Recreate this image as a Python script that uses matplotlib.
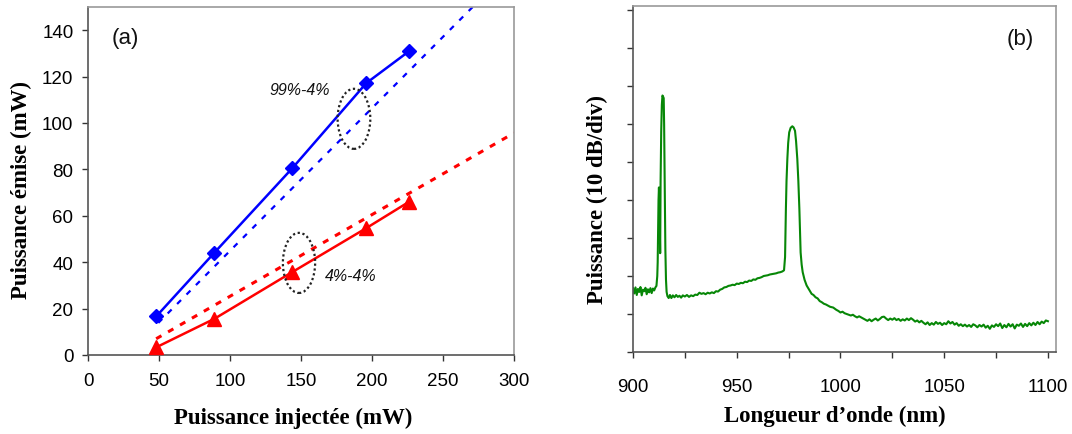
import matplotlib
matplotlib.use("Agg")
import matplotlib.pyplot as plt
from matplotlib.patches import Ellipse
import numpy as np

# ---------------- data (a) ----------------
inj_blue = [48, 89, 144, 196, 226]
emis_blue = [16.6, 44.1, 80.6, 117.2, 130.9]
inj_red = [48, 89, 144, 196, 226]
emis_red = [3.3, 15.6, 35.8, 54.7, 66.0]
# fitted (dotted) lines: slope, intercept, x-start, x-end
fit_blue = [0.615, -16.6, 49.5, 300]
fit_red = [0.352, -9.9, 48, 300]
xticks_a = [0, 50, 100, 150, 200, 250, 300]
yticks_a = [0, 20, 40, 60, 80, 100, 120, 140]

# ---------------- data (b) ----------------
wl = [900.0, 900.6, 901.2, 901.8, 902.4, 903.0, 903.6, 904.2, 904.8, 905.4,
      906.0, 906.6, 907.2, 907.8, 908.4, 909.0, 909.6, 910.2, 910.8, 911.3,
      911.7, 911.9, 912.1, 912.3, 912.5, 912.7, 912.9, 913.1, 913.3, 913.6,
      913.9, 914.2, 914.5, 914.8, 915.0, 915.3, 915.6, 915.9, 916.2, 916.6,
      917.2, 917.8, 918.5, 919.2, 920.0, 920.8, 921.6, 922.4, 923.2, 924.0,
      925, 926, 927, 928, 929, 930, 931, 932, 933, 934,
      935, 936, 937, 938, 939, 940, 941, 942, 943, 944,
      945, 946, 947, 948, 949, 950, 951, 952, 953, 954,
      955, 956, 957, 958, 959, 960, 961, 962, 963, 964,
      965, 966, 967, 968, 969, 970, 971, 972, 972.8, 973.3,
      973.7, 974.0, 974.4, 974.8, 975.3, 976.0, 976.8, 977.4, 978.1, 978.6,
      979.2, 979.7, 980.2, 980.5, 980.8, 981.3, 981.8, 982.7, 983.7, 984.8,
      986.1, 987, 988, 989, 990, 991, 992, 993, 994, 995,
      996.5, 998, 999, 1000, 1001, 1002, 1003, 1004, 1005, 1006,
      1007, 1008, 1009, 1010, 1011, 1012, 1013, 1014, 1015, 1016,
      1017, 1018, 1019, 1020, 1021, 1022, 1023, 1024, 1025, 1026,
      1027, 1028, 1029, 1030, 1031, 1032, 1033, 1034, 1035, 1036,
      1037, 1038, 1039, 1040, 1041, 1042, 1043, 1044, 1045, 1046,
      1047, 1048, 1049, 1050, 1051, 1052, 1053, 1054, 1055, 1056,
      1057, 1058, 1059, 1060, 1061, 1062, 1063, 1064, 1065, 1066,
      1067, 1068, 1069, 1070, 1071, 1072, 1073, 1074, 1075, 1076,
      1077, 1078, 1079, 1080, 1081, 1082, 1083, 1084, 1085, 1086,
      1087, 1088, 1089, 1090, 1091, 1092, 1093, 1094, 1095, 1096,
      1097, 1098, 1099, 1100]
power_db = [-73.2, -74.6, -73.0, -75.0, -73.4, -74.2, -72.9, -75.1, -73.6, -74.0,
            -73.1, -74.8, -73.5, -74.3, -73.2, -74.5, -73.3, -73.8, -73.0, -72.6,
            -70.0, -66.4, -58.0, -50.0, -46.7, -50.0, -57.0, -64.0, -45.0, -32.0,
            -25.0, -22.5, -22.8, -23.2, -30.0, -46.0, -63.0, -71.0, -74.2, -75.3,
            -75.8, -75.0, -75.8, -75.1, -75.6, -75.0, -75.5, -75.2, -75.7, -75.1,
            -75.4, -75.0, -75.5, -75.1, -75.3, -74.9, -75.0, -74.4, -74.7, -74.5,
            -74.8, -74.4, -74.6, -74.3, -74.5, -74.0, -74.1, -73.6, -73.4, -73.0,
            -72.9, -72.6, -72.5, -72.3, -72.4, -72.0, -72.1, -71.8, -71.9, -71.5,
            -71.6, -71.2, -71.3, -70.9, -71.0, -70.6, -70.5, -70.3, -70.0, -69.9,
            -69.8, -69.6, -69.5, -69.4, -69.3, -69.1, -69.0, -68.8, -68.5, -65.0,
            -52.4, -45.0, -39.2, -35.0, -32.2, -31.0, -30.6, -30.9, -31.8, -34.5,
            -39.2, -45.0, -52.4, -58.0, -63.8, -67.0, -69.0, -71.0, -72.5, -73.5,
            -74.7, -75.0, -75.6, -75.9, -76.6, -76.9, -77.3, -77.5, -77.8, -78.1,
            -78.3, -78.9, -79.2, -79.6, -79.4, -79.8, -80.0, -80.2, -80.4, -80.2,
            -80.6, -80.9, -80.6, -80.9, -81.2, -81.5, -81.8, -81.4, -81.9, -81.5,
            -81.2, -81.7, -81.3, -80.8, -80.7, -81.2, -81.6, -81.2, -81.5, -81.1,
            -81.6, -81.3, -81.8, -81.4, -81.7, -81.2, -81.6, -81.1, -81.5, -82.0,
            -81.7, -82.2, -81.8, -82.3, -82.7, -82.2, -82.9, -82.4, -82.8, -82.1,
            -82.6, -82.3, -82.9, -82.4, -82.7, -81.9, -82.5, -82.1, -82.8, -82.4,
            -83.1, -82.7, -83.2, -82.8, -83.3, -82.9, -83.4, -82.7, -83.0, -83.5,
            -82.9, -83.3, -82.8, -83.6, -83.1, -83.9, -83.0, -83.4, -82.7, -83.2,
            -82.5, -83.7, -82.9, -83.5, -82.6, -83.3, -82.7, -83.8, -82.8, -83.1,
            -82.5, -83.4, -82.6, -83.2, -82.4, -83.0, -82.3, -82.9, -82.1, -82.7,
            -82.0, -82.4, -81.7, -81.9]
xticks_b = [900, 950, 1000, 1050, 1100]
xminor_b = [925, 975, 1025, 1075]
yticks_b = [-90, -80, -70, -60, -50, -40, -30, -20, -10, 0]

# ---------------- style ----------------
SANS = "Liberation Sans"
SERIF = "Liberation Serif"
BLUE = "#0000ff"
RED = "#ff0000"
GREEN = "#078707"
LABEL_FS = 16.5

fig = plt.figure(figsize=(10.72, 4.35), dpi=100)
W, H = 1072, 435

def axes_px(x0, x1, ytop, ybot):
    return fig.add_axes([x0 / W, 1 - ybot / H, (x1 - x0) / W, (ybot - ytop) / H])

def style_axes(ax):
    for s in ["left", "bottom"]:
        ax.spines[s].set_color("#555555")
        ax.spines[s].set_linewidth(1.2)
    for s in ["top", "right"]:
        ax.spines[s].set_color("#999999")
        ax.spines[s].set_linewidth(1.2)
    ax.tick_params(which="both", direction="out", length=4.5, width=1.0,
                   color="#333333", labelsize=13.5)
    for lab in ax.get_xticklabels() + ax.get_yticklabels():
        lab.set_fontfamily(SANS)

# ---------------- panel (a) ----------------
axa = axes_px(88, 514, 8, 356)
axa.set_xlim(0, 300)
axa.set_ylim(0, 150)
axa.set_xticks(xticks_a)
axa.set_yticks(yticks_a)

xb = np.array([fit_blue[2], fit_blue[3]])
axa.plot(xb, fit_blue[0] * xb + fit_blue[1], color=BLUE, lw=1.6,
         dashes=(2.5, 3.5), zorder=2)
xr = np.array([fit_red[2], fit_red[3]])
axa.plot(xr, fit_red[0] * xr + fit_red[1], color=RED, lw=2.2,
         dashes=(2.0, 2.5), zorder=2)
axa.plot(inj_blue, emis_blue, color=BLUE, lw=1.8, marker="D", ms=7.5,
         zorder=3, clip_on=False)
axa.plot(inj_red, emis_red, color=RED, lw=1.8, marker="^", ms=9.5,
         zorder=3, clip_on=False)

axa.add_patch(Ellipse((187.3, 101.8), 23, 25.9, fill=False, ec="#222222",
                      lw=1.6, ls=(0, (1, 1.2)), zorder=4))
axa.add_patch(Ellipse((148.6, 39.7), 22.7, 25.9, fill=False, ec="#222222",
                      lw=1.6, ls=(0, (1, 1.2)), zorder=4))
axa.text(128, 114.3, "99%-4%", fontfamily=SANS, style="italic", fontsize=11.5,
         ha="left", va="center", color="#111111")
axa.text(166.9, 34.3, "4%-4%", fontfamily=SANS, style="italic", fontsize=11.5,
         ha="left", va="center", color="#111111")
axa.text(16.6, 137, "(a)", fontfamily=SANS, fontsize=16, ha="left",
         va="center", color="#111111")
style_axes(axa)
axa.tick_params(axis="x", pad=8)
axa.tick_params(axis="y", pad=6)
axa.set_xlabel("Puissance injectée (mW)", fontfamily=SERIF, fontweight="bold",
               fontsize=LABEL_FS)
axa.set_ylabel("Puissance émise (mW)", fontfamily=SERIF, fontweight="bold",
               fontsize=LABEL_FS)
axa.xaxis.set_label_coords(0.481, -0.18)
axa.xaxis.label.set_va("center")
axa.yaxis.set_label_coords(-0.157, 0.478)
axa.yaxis.label.set_va("center")

# ---------------- panel (b) ----------------
axb = axes_px(633, 1056, 7, 353)
axb.plot(wl, power_db, color=GREEN, lw=1.5)
axb.set_xlim(900, 1103.9)
axb.set_ylim(-90, 1.05)
axb.set_xticks(xticks_b)
axb.set_xticks(xminor_b, minor=True)
axb.set_yticks(yticks_b)
axb.set_yticklabels([])
axb.text(1080.1, -7.4, "(b)", fontfamily=SANS, fontsize=16, ha="left",
         va="center", color="#111111")
style_axes(axb)
axb.tick_params(axis="x", which="both", pad=14)
axb.set_xlabel("Longueur d’onde (nm)", fontfamily=SERIF, fontweight="bold",
               fontsize=LABEL_FS)
axb.set_ylabel("Puissance (10 dB/div)", fontfamily=SERIF, fontweight="bold",
               fontsize=LABEL_FS)
axb.xaxis.set_label_coords(0.4775, -0.182)
axb.xaxis.label.set_va("center")
axb.yaxis.set_label_coords(-0.083, 0.445)
axb.yaxis.label.set_va("center")

fig.savefig("out.png", dpi=100)
